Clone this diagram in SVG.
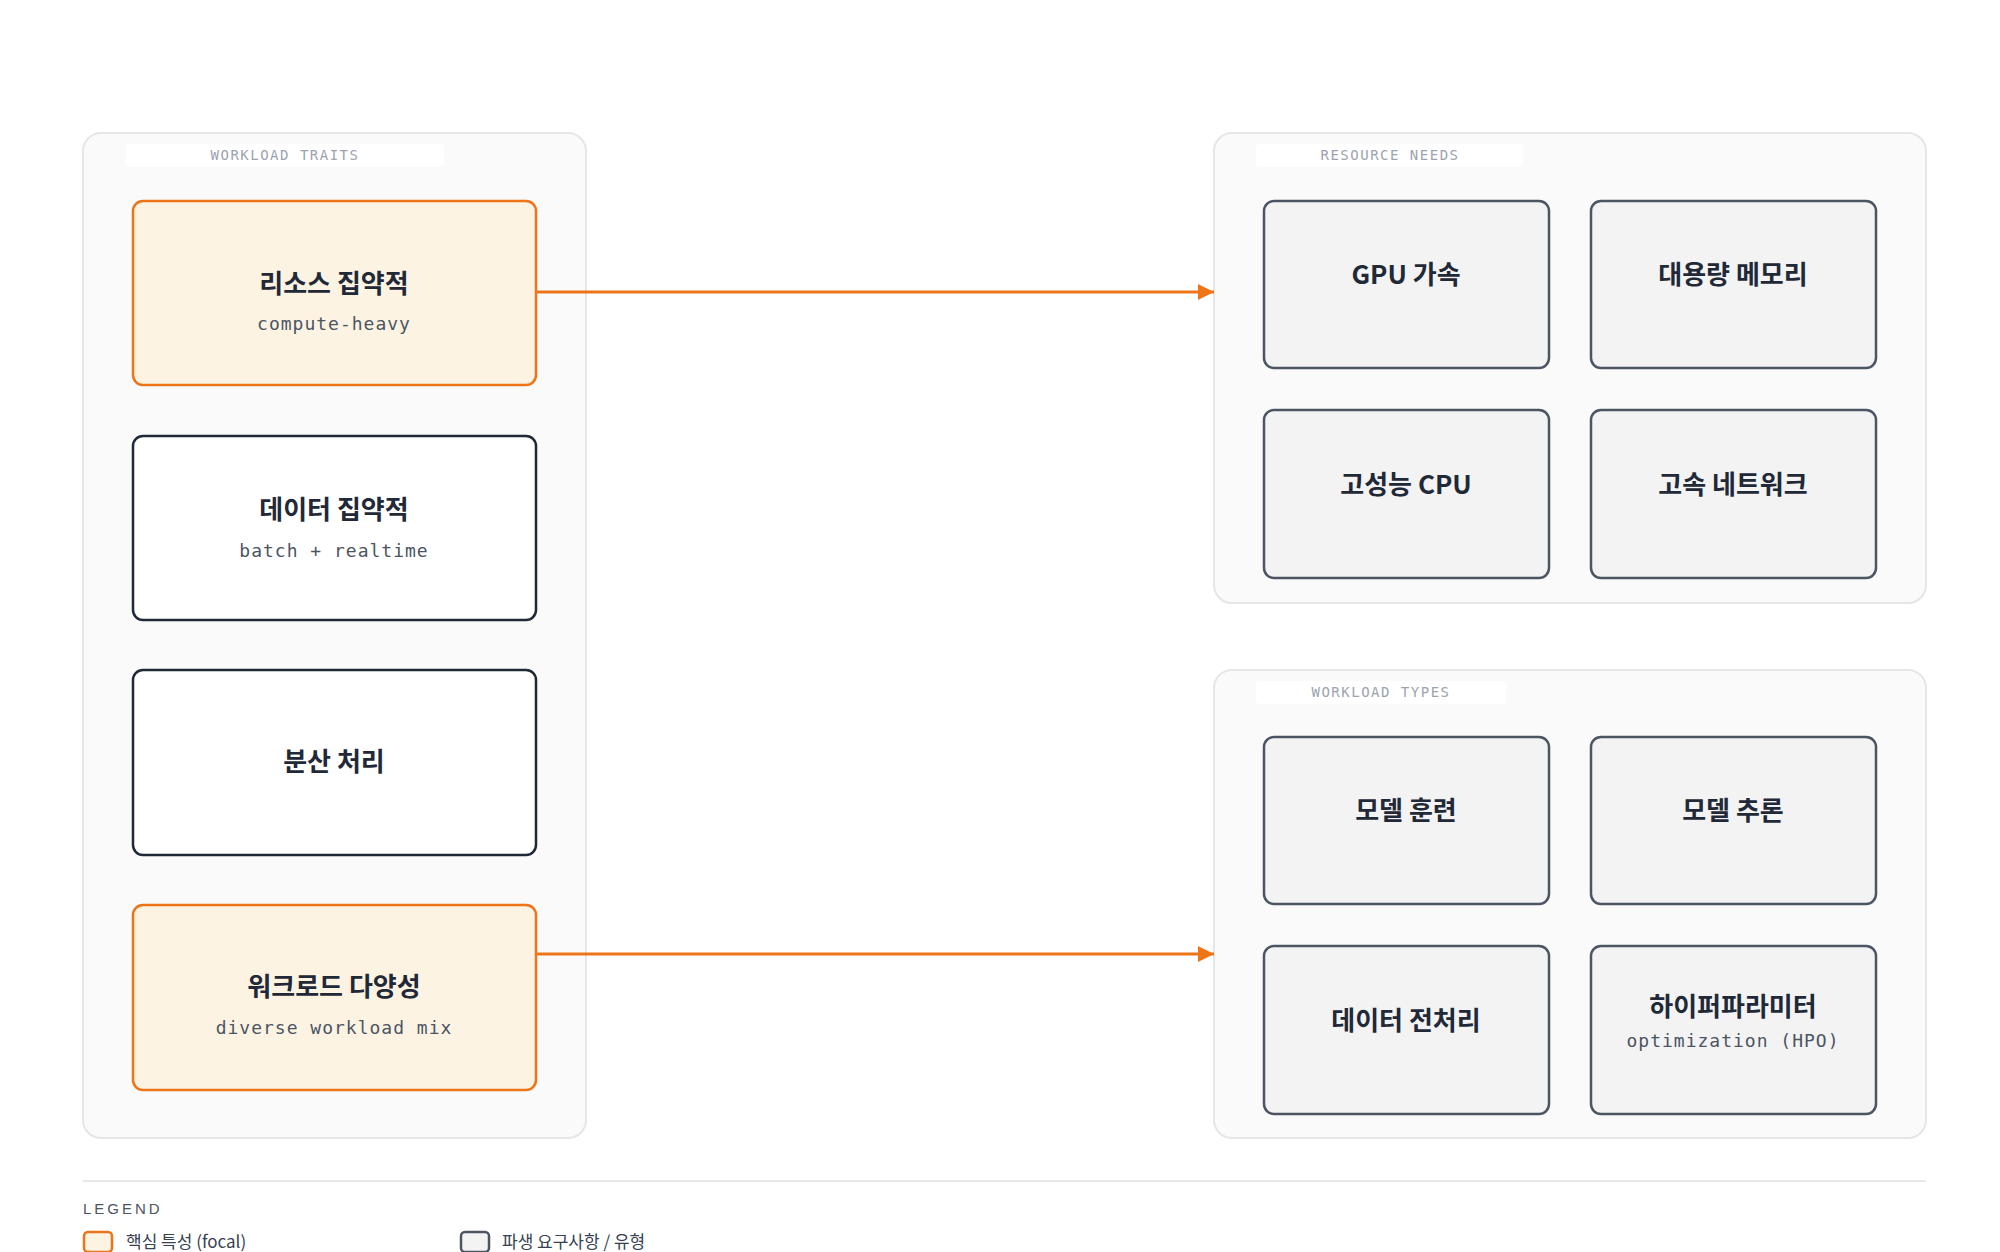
<svg xmlns="http://www.w3.org/2000/svg" width="2000" height="1252" viewBox="0 0 2000 1252">
<defs>
<style>
.panel{fill:#fafafa;stroke:#e6e6e6;stroke-width:2}
.chip{fill:#ffffff}
.chipt{font-family:"DejaVu Sans Mono","Liberation Mono",monospace;font-size:14px;fill:#9ca3af;letter-spacing:1.5px;text-anchor:middle}
.focal{fill:#fdf3e3;stroke:#ee7418;stroke-width:2.5}
.plain{fill:#ffffff;stroke:#1f2937;stroke-width:2.5}
.der{fill:#f3f3f3;stroke:#4b5563;stroke-width:2.5}
.t{font-family:"Noto Sans CJK KR","Noto Sans",sans-serif;font-weight:700;font-size:26px;fill:#1f2937;text-anchor:middle}
.s{font-family:"DejaVu Sans Mono","Liberation Mono",monospace;font-size:18px;fill:#4b5563;text-anchor:middle;letter-spacing:1px}
.conn{stroke:#ee7418;stroke-width:3;fill:none}
.leg{font-family:"Noto Sans CJK KR","Noto Sans",sans-serif;font-size:17px;fill:#374151}
</style>
<marker id="ah" viewBox="0 0 10 10" refX="10" refY="5" markerWidth="8" markerHeight="8" markerUnits="userSpaceOnUse" orient="auto"><path d="M0,0L10,5L0,10z" fill="#ee7418"/></marker>
<marker id="ah2" viewBox="0 0 10 10" refX="10" refY="5" markerWidth="22" markerHeight="16" markerUnits="userSpaceOnUse" orient="auto"><path d="M0,0L10,5L0,10z" fill="#ee7418"/></marker>
</defs>
<rect width="2000" height="1252" fill="#ffffff"/>
<g id="panel-traits">
<rect class="panel" x="83" y="133" width="503" height="1005" rx="18"/>
<rect class="chip" x="126" y="144" width="318" height="23" rx="4"/>
<text class="chipt" x="285" y="160">WORKLOAD TRAITS</text>
</g>
<g id="panel-needs">
<rect class="panel" x="1214" y="133" width="712" height="470" rx="18"/>
<rect class="chip" x="1256" y="144" width="267" height="23" rx="4"/>
<text class="chipt" x="1390" y="160">RESOURCE NEEDS</text>
</g>
<g id="panel-types">
<rect class="panel" x="1214" y="670" width="712" height="468" rx="18"/>
<rect class="chip" x="1256" y="681" width="250" height="23" rx="4"/>
<text class="chipt" x="1381" y="697">WORKLOAD TYPES</text>
</g>
<g id="connectors">
<line class="conn" x1="536" y1="292" x2="1214" y2="292" marker-end="url(#ah2)"/>
<line class="conn" x1="536" y1="954" x2="1214" y2="954" marker-end="url(#ah2)"/>
</g>
<g id="n-resource"><rect class="focal" x="133" y="201" width="403" height="184" rx="10"/><text class="t" x="334" y="293">리소스 집약적</text><text class="s" x="334" y="330">compute-heavy</text></g>
<g id="n-data"><rect class="plain" x="133" y="436" width="403" height="184" rx="10"/><text class="t" x="334" y="519">데이터 집약적</text><text class="s" x="334" y="557">batch + realtime</text></g>
<g id="n-dist"><rect class="plain" x="133" y="670" width="403" height="185" rx="10"/><text class="t" x="334" y="771">분산 처리</text></g>
<g id="n-diverse"><rect class="focal" x="133" y="905" width="403" height="185" rx="10"/><text class="t" x="334" y="996">워크로드 다양성</text><text class="s" x="334" y="1034">diverse workload mix</text></g>
<g id="n-gpu"><rect class="der" x="1264" y="201" width="285" height="167" rx="10"/><text class="t" x="1406" y="284">GPU 가속</text></g>
<g id="n-mem"><rect class="der" x="1591" y="201" width="285" height="167" rx="10"/><text class="t" x="1733" y="284">대용량 메모리</text></g>
<g id="n-cpu"><rect class="der" x="1264" y="410" width="285" height="168" rx="10"/><text class="t" x="1406" y="494">고성능 CPU</text></g>
<g id="n-net"><rect class="der" x="1591" y="410" width="285" height="168" rx="10"/><text class="t" x="1733" y="494">고속 네트워크</text></g>
<g id="n-train"><rect class="der" x="1264" y="737" width="285" height="167" rx="10"/><text class="t" x="1406" y="820">모델 훈련</text></g>
<g id="n-infer"><rect class="der" x="1591" y="737" width="285" height="167" rx="10"/><text class="t" x="1733" y="820">모델 추론</text></g>
<g id="n-prep"><rect class="der" x="1264" y="946" width="285" height="168" rx="10"/><text class="t" x="1406" y="1030">데이터 전처리</text></g>
<g id="n-hpo"><rect class="der" x="1591" y="946" width="285" height="168" rx="10"/><text class="t" x="1733" y="1016">하이퍼파라미터</text><text class="s" x="1733" y="1047">optimization (HPO)</text></g>
<g id="legend">
<line x1="83" y1="1181" x2="1926" y2="1181" stroke="#e8e8e8" stroke-width="2"/>
<text x="83" y="1214" font-family="Liberation Sans,sans-serif" font-size="15" letter-spacing="3" fill="#4b5563">LEGEND</text>
<rect x="84" y="1232" width="28" height="20" rx="4" fill="#fdf3e3" stroke="#ee7418" stroke-width="2.5"/>
<text class="leg" x="126" y="1248">핵심 특성 (focal)</text>
<rect x="461" y="1232" width="28" height="20" rx="4" fill="#f3f3f3" stroke="#4b5563" stroke-width="2.5"/>
<text class="leg" x="502" y="1248">파생 요구사항 / 유형</text>
</g>
</svg>
